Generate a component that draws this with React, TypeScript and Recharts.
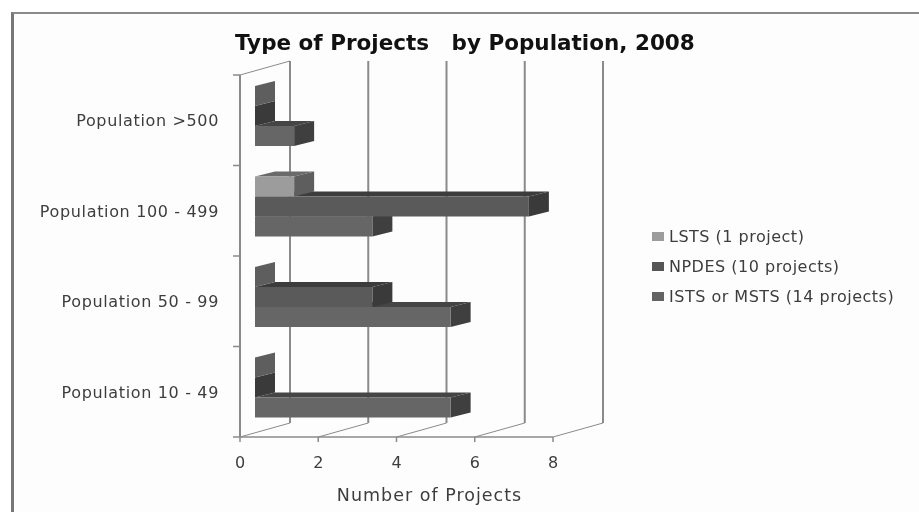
import { BarChart, Bar, XAxis, YAxis, CartesianGrid, Legend } from 'recharts';

const categories = ['Population >500', 'Population 100 - 499', 'Population 50 - 99', 'Population 10 - 49'];
const lsts = [0, 1, 0, 0];
const npdes = [0, 7, 3, 0];
const ists = [1, 3, 5, 5];
const xTicks = [0, 2, 4, 6, 8];
const legendLabels = ['LSTS (1 project)', 'NPDES (10 projects)', 'ISTS or MSTS (14 projects)'];
const legendColors = ['#9c9c9c', '#555555', '#636363'];

const data = categories.map((name, i) => ({ name, lsts: lsts[i], npdes: npdes[i], ists: ists[i] }));

const FONT = '"DejaVu Sans", sans-serif';
const AXIS = '#8a8a8a';
const TEXT = '#3d3d3d';
const BAND = 90.5;
const AXIS_X = 240;

// excel style 3d box. series are declared bottom bar first so upper bars paint over
// the top faces below them, slot moves each one back to its place in the group
function box(slot: number, front: string, side: string, top: string) {
  return (p: any) => {
    const x = p.x + 15;
    const y = p.y + slot - 4;
    const w = p.width;
    const h = p.height;
    const r = x + w;
    return (
      <g>
        <polygon points={`${x},${y} ${x + 20},${y - 5} ${r + 20},${y - 5} ${r},${y}`} fill={top} />
        <polygon points={`${r},${y} ${r + 20},${y - 5} ${r + 20},${y + h - 5} ${r},${y + h}`} fill={side} />
        <rect x={x} y={y} width={w} height={h} fill={front} />
      </g>
    );
  };
}

function wallLine(p: any) {
  const { x1, y1, y2 } = p;
  return (
    <g key={p.key}>
      <line x1={x1 + 50} x2={x1 + 50} y1={y1 - 14} y2={y2 - 14} stroke={AXIS} strokeWidth={2} />
      <line x1={x1} x2={x1 + 50} y1={y2} y2={y2 - 14} stroke={AXIS} strokeWidth={1} />
      {x1 === AXIS_X && <line x1={x1} x2={x1 + 50} y1={y1} y2={y1 - 14} stroke={AXIS} strokeWidth={1} />}
    </g>
  );
}

function CategoryTick(p: any) {
  const { y, payload, index } = p;
  return (
    <g>
      <text x={219} y={y + 6} textAnchor="end" fontSize={16} letterSpacing={0.65} fontFamily={FONT} fill={TEXT}>
        {payload.value}
      </text>
      <line x1={AXIS_X - 7} x2={AXIS_X} y1={y + BAND / 2} y2={y + BAND / 2} stroke={AXIS} strokeWidth={1.5} />
      {index === 0 && (
        <line x1={AXIS_X - 7} x2={AXIS_X} y1={y - BAND / 2} y2={y - BAND / 2} stroke={AXIS} strokeWidth={1.5} />
      )}
    </g>
  );
}

function LegendList() {
  return (
    <div style={{ fontFamily: FONT, fontSize: 16, letterSpacing: 0.5, color: TEXT }}>
      {legendLabels.map((label, i) => (
        <div key={label} style={{ display: 'flex', alignItems: 'center', height: 30, whiteSpace: 'nowrap' }}>
          <span style={{ width: 12, height: 9, background: legendColors[i], marginRight: 5 }} />
          {label}
        </div>
      ))}
    </div>
  );
}

export default function App() {
  return (
    <div style={{ position: 'fixed', left: 0, top: 0, width: 919, height: 512, background: '#fff', overflow: 'hidden' }}>
      <div
        style={{
          position: 'absolute',
          left: 11,
          top: 12,
          width: 908,
          height: 500,
          boxSizing: 'border-box',
          background: '#fdfdfd',
          borderLeft: '3px solid #777',
          borderTop: '2px solid #8a8a8a',
        }}
      />
      <div
        style={{
          position: 'absolute',
          left: 235,
          top: 30,
          fontFamily: FONT,
          fontWeight: 700,
          fontSize: 21.5,
          color: '#111',
          whiteSpace: 'pre',
          filter: 'blur(0.4px)',
        }}
      >
        Type of Projects   by Population, 2008
      </div>
      <div style={{ position: 'absolute', left: 0, top: 0, filter: 'blur(0.5px)' }}>
        <BarChart
          width={919}
          height={512}
          data={data}
          layout="vertical"
          margin={{ top: 75, right: 366, bottom: 0, left: 0 }}
          barSize={20}
          barGap={0}
        >
          <CartesianGrid horizontal={false} vertical={wallLine} />
          <XAxis
            type="number"
            domain={[0, 8]}
            ticks={xTicks}
            height={75}
            stroke={AXIS}
            strokeWidth={1.5}
            tickSize={5}
            tickMargin={15}
            tick={{ fill: TEXT, fontSize: 16, fontFamily: FONT }}
            label={{
              value: 'Number of Projects',
              position: 'insideBottom',
              offset: 11,
              dx: 33,
              fill: TEXT,
              fontSize: 17.5,
              letterSpacing: 1,
              fontFamily: FONT,
            }}
          />
          <YAxis
            type="category"
            dataKey="name"
            width={240}
            stroke={AXIS}
            strokeWidth={2}
            tickLine={false}
            interval={0}
            tick={CategoryTick}
          />
          <Legend
            content={LegendList}
            layout="vertical"
            align="center"
            verticalAlign="middle"
            wrapperStyle={{ position: 'absolute', left: 652, top: 221, width: 260 }}
          />
          <Bar dataKey="ists" isAnimationActive={false} fill="#636363" shape={box(40, '#666666', '#3f3f3f', '#454545')} />
          <Bar dataKey="npdes" isAnimationActive={false} fill="#555555" shape={box(0, '#5a5a5a', '#3a3a3a', '#3c3c3c')} />
          <Bar dataKey="lsts" isAnimationActive={false} fill="#9c9c9c" shape={box(-40, '#9c9c9c', '#5e5e5e', '#6a6a6a')} />
        </BarChart>
      </div>
    </div>
  );
}
